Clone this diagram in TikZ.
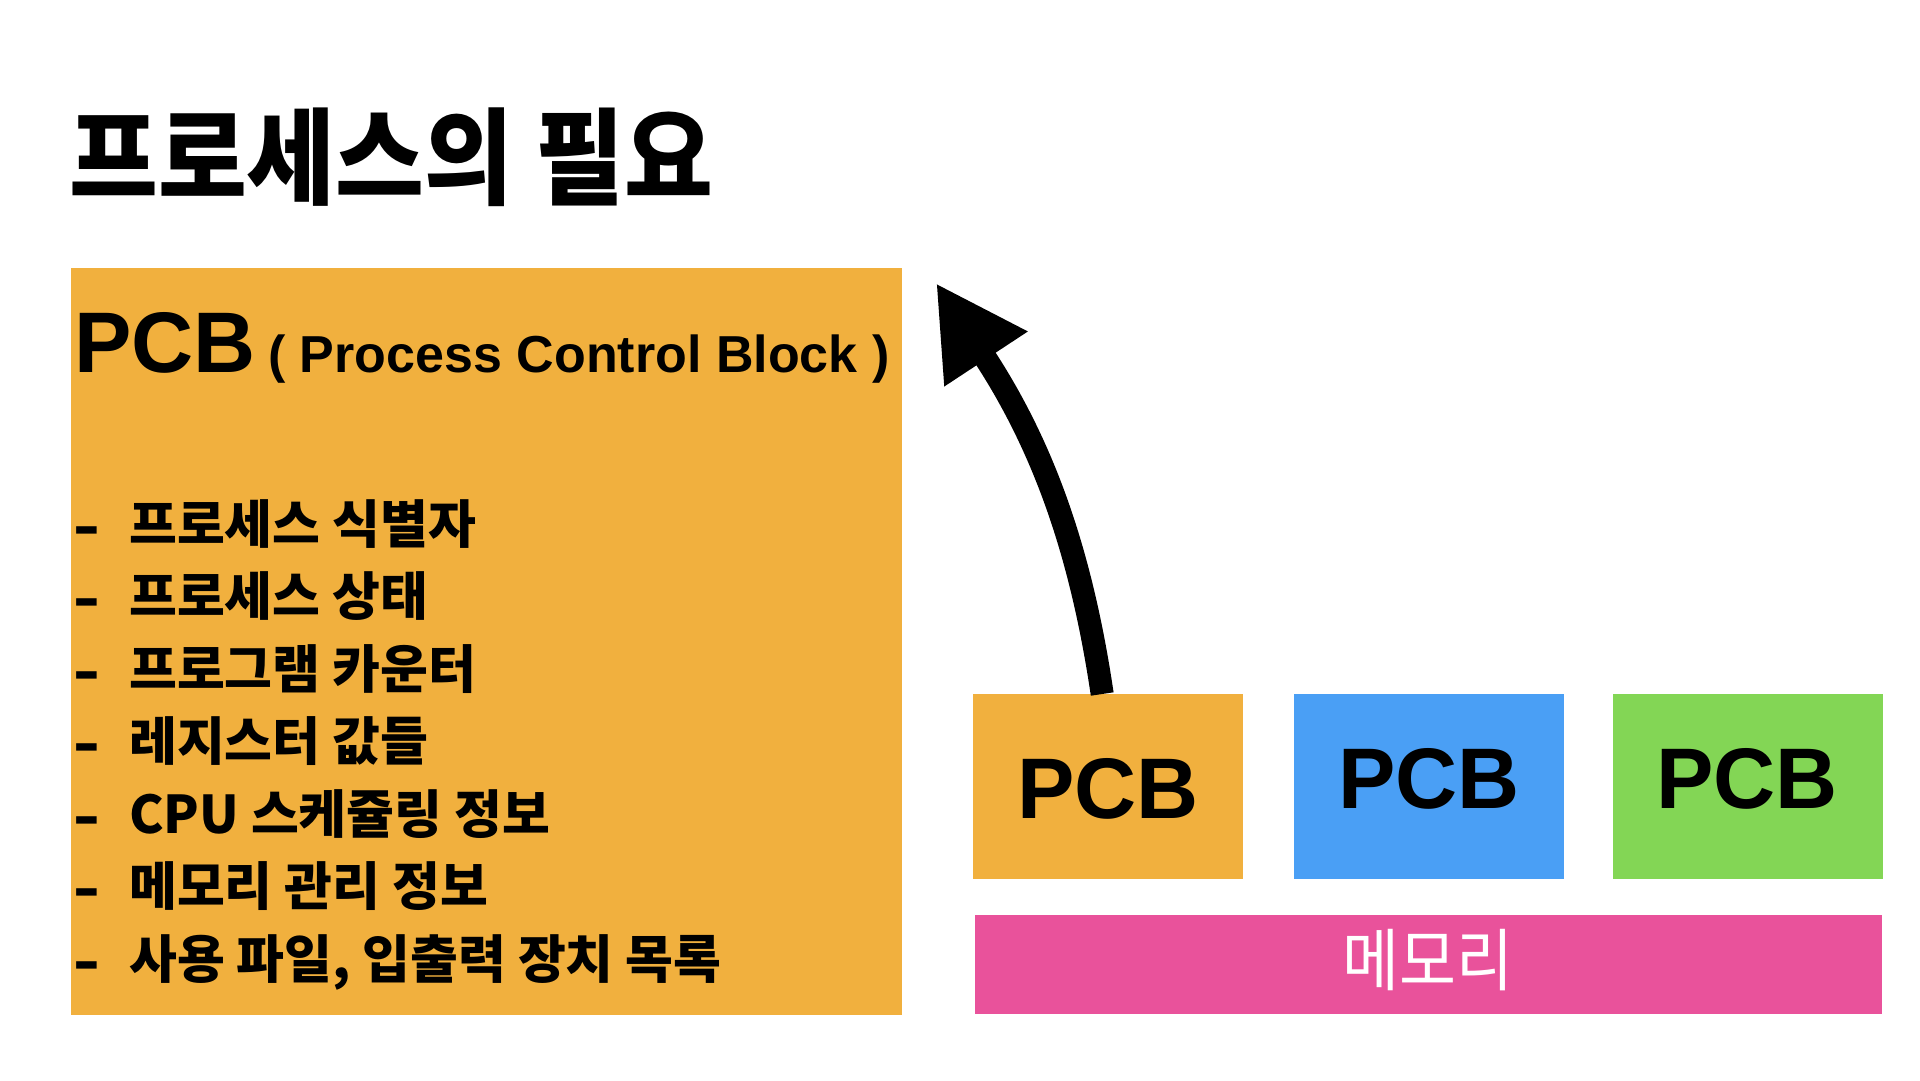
\documentclass[tikz,border=0pt]{standalone}
\usepackage{fontspec}
\usepackage{graphicx}
\setmainfont{Liberation Sans}
\newfontfamily\kr{Noto Sans CJK KR}
\usetikzlibrary{arrows.meta}
\definecolor{pcborange}{HTML}{F1B03E}
\definecolor{pcbblue}{HTML}{4A9FF5}
\definecolor{pcbgreen}{HTML}{83D655}
\definecolor{mempink}{HTML}{E9529B}
\newcommand{\itemdashmark}{\makebox[56pt][l]{\raisebox{-3pt}{\normalfont\bfseries\fontsize{62}{64}\selectfont\scalebox{1.3}[1]{-}}}}
\begin{document}
\begin{tikzpicture}[x=1pt,y=-1pt,
  pcbbox/.style={fill=#1, draw=none, inner sep=0, minimum width=270pt, minimum height=185pt, anchor=north west},
  itemtxt/.style={anchor=base west, inner sep=0, font=\kr\bfseries\fontsize{52}{56}\selectfont},
  pcbtxt/.style={inner sep=0, font=\bfseries\fontsize{86}{90}\selectfont}
]
\useasboundingbox (0,0) rectangle (1920,1080);

% title
\node[anchor=base west, inner sep=0, font=\kr\bfseries\fontsize{105}{110}\selectfont] (title) at (69,196) {\scalebox{0.92}[1]{프로세스의 필요}};

% big PCB block
\node[fill=pcborange, inner sep=0, minimum width=831pt, minimum height=747pt, anchor=north west] (block) at (71,268) {};
\node[anchor=base west, inner sep=0, font=\bfseries\fontsize{86}{90}\selectfont] (pcbhead) at (74,372) {PCB};
\node[anchor=base west, inner sep=0, font=\bfseries\fontsize{52}{56}\selectfont] (pcbfull) at (268,372) {( Process Control Block )};

% list
\foreach \y/\t [count=\i] in {543/프로세스 식별자, 615.5/프로세스 상태, 688/프로그램 카운터, 760.5/레지스터 값들, 833/CPU 스케쥴링 정보, 905.5/메모리 관리 정보, 978/사용 파일{,} 입출력 장치 목록}{
  \node[itemtxt] (it\i) at (73,\y) {\itemdashmark\t};
}

% small PCBs
\node[pcbbox=pcborange] (pcb1) at (973,694) {};
\node[pcbbox=pcbblue] (pcb2) at (1294,694) {};
\node[pcbbox=pcbgreen] (pcb3) at (1613,694) {};
\node[pcbtxt] (t1) at (1108,789) {PCB};
\node[pcbtxt] (t2) at (1429,779) {PCB};
\node[pcbtxt] (t3) at (1747,779) {PCB};

% memory
\node[fill=mempink, inner sep=0, minimum width=907pt, minimum height=99pt, anchor=north west] (mem) at (975,915) {};
\node[text=white, inner sep=0, font=\kr\fontsize{68}{72}\selectfont] (memt) at (1428,960) {\scalebox{0.91}[1]{메모리}};

% arrow
\coordinate (tip) at (936,283);
\draw[line width=23pt, -{Triangle[length=91pt,width=93pt]}] ([xshift=-6pt]pcb1.north) .. controls (1082,558) and (1046,450) .. (tip);
\end{tikzpicture}
\end{document}
